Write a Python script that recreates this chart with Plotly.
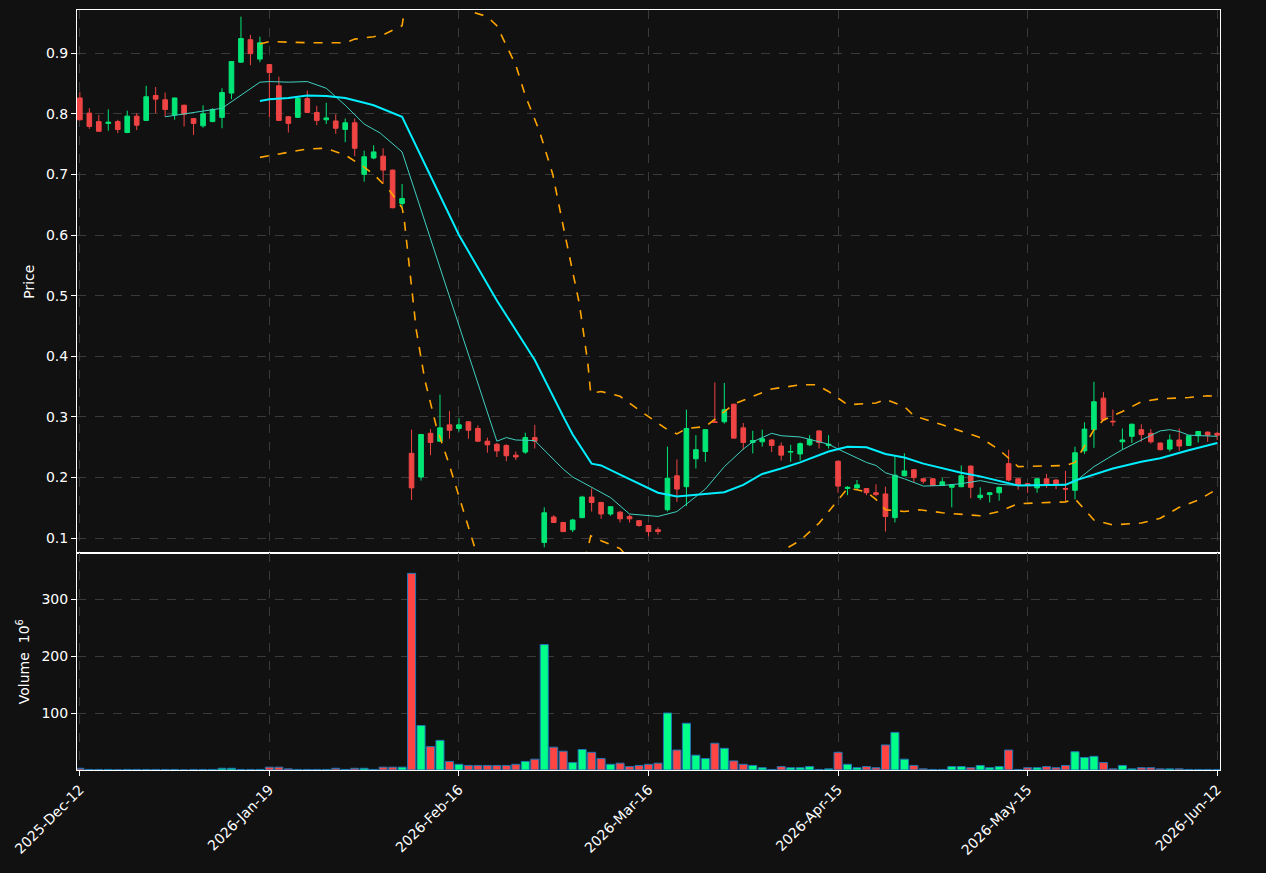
import plotly.graph_objects as go
from plotly.subplots import make_subplots

# daily candles, index 0..120 (gaps in dates, so plotted by position)
opens = [.826, .801, .787, .784, .787, .769, .796, .789, .830, .823, .798, .814, .792, .780, .787, .794,
         .834, .885, .922, .890, .881, .846, .795, .794, .825, .802, .790, .788, .774, .785, .700, .727,
         .730, .707, .652, .240, .201, .273, .260, .287, .281, .292, .281, .260, .255, .253, .237, .242,
         .266, .093, .135, .126, .114, .134, .168, .159, .140, .143, .136, .129, .121, .114, .147, .203,
         .185, .231, .243, .292, .292, .321, .282, .258, .259, .262, .252, .242, .239, .254, .277, .253,
         .227, .182, .183, .182, .175, .173, .134, .203, .213, .198, .198, .187, .184, .185, .219, .167,
         .172, .175, .223, .198, .190, .183, .198, .196, .182, .179, .244, .279, .331, .293, .259, .268,
         .279, .273, .257, .247, .262, .253, .269, .275, .273]
highs = [.836, .809, .798, .807, .790, .805, .801, .846, .844, .835, .826, .815, .793, .814, .809, .842,
         .886, .960, .930, .927, .882, .861, .796, .828, .838, .813, .818, .799, .792, .792, .739, .748,
         .743, .708, .684, .279, .272, .280, .337, .310, .298, .293, .286, .266, .257, .255, .243, .274,
         .287, .151, .138, .127, .132, .170, .182, .160, .152, .145, .139, .130, .122, .118, .251, .230,
         .312, .270, .279, .357, .356, .322, .290, .277, .279, .263, .258, .254, .258, .270, .278, .270,
         .228, .186, .196, .183, .189, .185, .235, .240, .214, .199, .199, .199, .189, .220, .220, .184,
         .176, .185, .246, .199, .191, .199, .206, .197, .211, .251, .291, .358, .341, .312, .281, .289,
         .288, .280, .258, .271, .281, .270, .277, .276, .275]
lows = [.789, .775, .770, .772, .768, .768, .773, .788, .801, .795, .790, .779, .765, .777, .786, .776,
        .824, .884, .880, .885, .794, .788, .769, .793, .801, .781, .783, .767, .753, .730, .688, .725,
        .685, .644, .644, .163, .195, .237, .259, .264, .276, .264, .259, .241, .234, .227, .229, .239,
        .248, .085, .125, .110, .110, .133, .144, .132, .137, .126, .126, .119, .103, .106, .144, .160,
        .153, .215, .226, .290, .289, .265, .246, .240, .251, .242, .228, .226, .228, .252, .248, .248,
        .175, .171, .180, .171, .169, .111, .126, .202, .192, .190, .186, .186, .151, .184, .166, .163,
        .159, .162, .194, .180, .175, .175, .183, .181, .160, .164, .239, .249, .294, .285, .246, .257,
        .259, .256, .245, .243, .244, .252, .258, .259, .262]
closes = [.790, .779, .771, .786, .774, .796, .781, .828, .824, .807, .826, .799, .784, .800, .807, .835,
          .886, .924, .899, .917, .868, .789, .784, .825, .802, .789, .793, .776, .785, .743, .729, .737,
          .707, .645, .660, .183, .271, .258, .282, .278, .287, .278, .260, .254, .244, .236, .234, .266,
          .260, .142, .126, .111, .130, .168, .159, .140, .152, .132, .132, .121, .111, .111, .199, .181,
          .281, .246, .279, .291, .312, .265, .258, .261, .264, .253, .237, .243, .256, .263, .258, .255,
          .186, .184, .188, .175, .172, .136, .204, .211, .200, .194, .187, .193, .188, .203, .184, .171,
          .175, .184, .196, .187, .188, .198, .187, .189, .181, .241, .280, .325, .295, .292, .262, .288,
          .271, .259, .246, .262, .252, .269, .276, .270, .270]
volume = [3, 1, 1, 1, 0.5, 1, 1, 1, 1, 1, 1, 0.3, 1, 1, 1, 3, 3, 1, 1, 1, 5, 5, 2, 1, 1, 1, 1, 3, 1, 3, 3, 1,
          5, 5, 5, 345, 78, 41, 52, 15, 10, 8, 8, 8, 8, 8, 10, 15, 19, 220, 40, 33, 13, 36, 31, 20, 10, 12,
          6, 8, 10, 12, 100, 35, 82, 26, 20, 47, 38, 16, 10, 8, 4, 1, 6, 4, 4, 6, 1, 2, 31, 10, 4, 6, 4, 44,
          66, 19, 8, 2, 1, 1, 6, 6, 4, 8, 4, 6, 35, 1, 4, 4, 6, 4, 8, 32, 22, 24, 13, 2, 8, 2, 4, 4, 2, 2, 2,
          1, 1, 1, 1]

# short moving average (thin line)
ma_s_x = [9, 15, 19, 20, 22, 24, 26, 28, 30, 31.7, 34, 44, 45, 46, 48, 51, 52, 56, 58, 61, 63, 66, 68,
          70, 71, 73, 74, 76, 78, 79, 80, 83, 84, 85, 87, 89, 91, 93, 95, 97, 99, 104, 105, 107, 109, 110,
          112, 114, 115, 116, 117, 119, 120]
ma_s_y = [.795, .809, .852, .853, .852, .853, .842, .814, .783, .768, .737, .260, .266, .262, .261, .214,
          .201, .167, .140, .136, .144, .181, .218, .247, .259, .273, .269, .267, .259, .255, .247, .225,
          .220, .208, .198, .186, .187, .190, .195, .189, .187, .188, .193, .218, .237, .246, .262, .277,
          .279, .276, .270, .268, .268]
# long moving average (thick line)
ma_l_x = [19, 20, 22, 24, 26, 28, 30, 31, 34, 38.9, 40, 44, 48, 51, 52, 54, 55, 57, 61, 63, 66, 68, 70,
          72, 74, 76, 79, 81, 83, 85, 87, 89, 93, 95, 99, 104, 105, 109, 112, 114, 117, 120]
ma_l_y = [.821, .824, .826, .830, .829, .826, .818, .814, .795, .634, .600, .492, .394, .301, .271, .223,
          .220, .205, .175, .169, .173, .176, .188, .206, .215, .225, .243, .251, .250, .239, .233, .223,
          .208, .202, .187, .188, .195, .215, .226, .232, .245, .257]
# bollinger bands
bb_up_x = [19, 20, 22, 24, 28, 29, 31, 32, 34, 35, 38, 41, 43, 44, 46, 47, 48.5, 49.9, 51.1, 52.7, 53.6,
           53.9, 55, 57, 59.4, 62, 63, 64, 66, 68, 69, 71, 73, 76, 77.7, 79, 81, 84, 85, 87, 88, 91, 93,
           95, 97, 99, 104, 105, 107, 108, 110, 112, 114, 117, 119, 120]
bb_up_y = [.915, .919, .918, .917, .917, .923, .927, .930, .945, 1.05, 1.1, .97, .96, .945, .88, .83, .771,
           .700, .607, .487, .389, .339, .342, .334, .307, .279, .272, .281, .284, .309, .321, .334, .346,
           .353, .353, .342, .320, .323, .329, .317, .302, .287, .276, .266, .246, .218, .220, .225, .279,
           .295, .309, .325, .330, .332, .335, .334]
bb_lo_x = [19, 21, 24, 26, 28, 30, 31, 32.6, 34, 34.2, 34.8, 35.5, 36.4, 37.6, 38.9, 40.3, 41.7, 44, 48,
           52, 53, 53.6, 53.9, 55, 57, 60, 65, 70, 73, 74.4, 76, 78, 80, 81, 82, 83, 84, 85, 87, 88.6, 91,
           93, 95, 97, 99, 104, 105, 107, 109, 112, 114, 116, 118, 120]
bb_lo_y = [.728, .734, .742, .743, .732, .712, .700, .675, .645, .629, .542, .443, .361, .285, .225, .154,
           .083, -.05, -.15, -.02, .05, .083, .104, .096, .083, .03, -.02, .02, .065, .082, .096, .125, .163,
           .182, .180, .176, .164, .147, .144, .147, .142, .140, .137, .144, .157, .160, .165, .130, .122,
           .125, .133, .151, .163, .181]

tick_pos = [0, 20, 40, 60, 80, 100, 120]
tick_text = ["2025-Dec-12", "2026-Jan-19", "2026-Feb-16", "2026-Mar-16", "2026-Apr-15", "2026-May-15",
             "2026-Jun-12"]

UP = "#00e676"
DOWN = "#ef4444"
idx = list(range(len(opens)))

fig = make_subplots(rows=2, cols=1, shared_xaxes=True, vertical_spacing=0, row_heights=[0.715, 0.285])

fig.add_trace(go.Candlestick(x=idx, open=opens, high=highs, low=lows, close=closes,
                             increasing=dict(line=dict(color=UP, width=1), fillcolor=UP),
                             decreasing=dict(line=dict(color=DOWN, width=1), fillcolor=DOWN),
                             whiskerwidth=0, showlegend=False), row=1, col=1)
fig.add_trace(go.Scatter(x=ma_s_x, y=ma_s_y, mode="lines", line=dict(color="#3fd0c0", width=1),
                         showlegend=False), row=1, col=1)
fig.add_trace(go.Scatter(x=ma_l_x, y=ma_l_y, mode="lines", line=dict(color="#00eeff", width=2),
                         showlegend=False), row=1, col=1)
for bx, by in [(bb_up_x, bb_up_y), (bb_lo_x, bb_lo_y)]:
    fig.add_trace(go.Scatter(x=bx, y=by, mode="lines", line=dict(color="#ffa500", width=1.6, dash="dash"),
                             showlegend=False), row=1, col=1)

vol_colors = ["#00ff88" if c >= o else "#ff4444" for o, c in zip(opens, closes)]
fig.add_trace(go.Bar(x=idx, y=volume, marker=dict(color=vol_colors, line=dict(color="#1f77b4", width=1)),
                     width=0.85, showlegend=False), row=2, col=1)

axis_style = dict(showgrid=True, gridcolor="#3a3a3a", griddash="dash", gridwidth=1, zeroline=False,
                  showline=True, linecolor="white", linewidth=1, mirror=True, ticks="outside",
                  tickcolor="white", color="white")
fig.update_xaxes(**axis_style, range=[-0.3, 120.3], tickvals=tick_pos, ticktext=tick_text,
                 rangeslider_visible=False)
fig.update_xaxes(tickangle=-45, tickfont=dict(size=14), row=2, col=1)
fig.update_yaxes(**axis_style, title_font=dict(size=14), title_standoff=8)
fig.update_yaxes(range=[0.075, 0.971], tickvals=[0.1, 0.2, 0.3, 0.4, 0.5, 0.6, 0.7, 0.8, 0.9],
                 title_text="Price", row=1, col=1)
fig.update_yaxes(range=[0, 380], tickvals=[100, 200, 300], title_text="Volume  10<sup>6</sup>", row=2, col=1)

fig.update_layout(width=1266, height=873, paper_bgcolor="#111111", plot_bgcolor="#111111",
                  font=dict(family="DejaVu Sans", size=14, color="white"),
                  margin=dict(l=77, r=46, t=10, b=103), bargap=0.1)

fig.write_html("out.html", config={"displayModeBar": False},
               post_script="document.body.style.margin='0';document.body.style.background='#111111';")
